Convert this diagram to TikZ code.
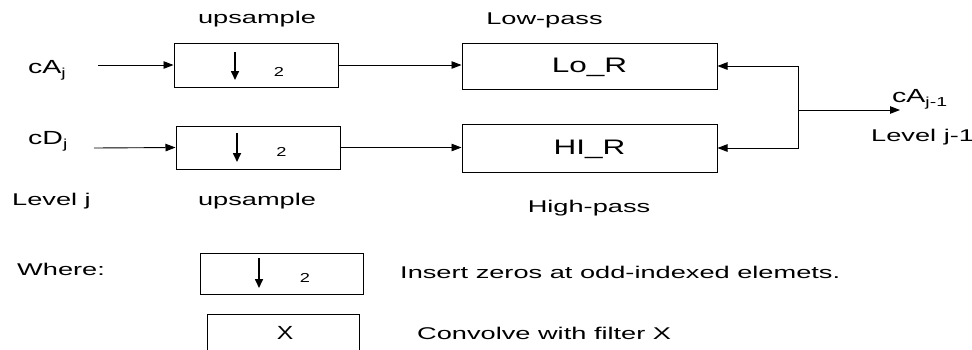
\documentclass[tikz,border=0pt]{standalone}
\usepackage{fontspec}
\setmainfont{Liberation Sans}
\newfontfamily\lblfont{Liberation Sans}[FakeStretch=1.6]
\newfontfamily\sigfont{Liberation Sans}[FakeStretch=1.5]
\newfontfamily\filtfont{Liberation Sans}[FakeStretch=1.5]
\newfontfamily\twofont{Liberation Sans}[FakeStretch=1.4]
\newfontfamily\xfont{Liberation Sans}[FakeStretch=1.3]
\usetikzlibrary{arrows.meta}
\newcommand\lowsub[1]{\raisebox{-4pt}{\fontsize{13}{13}\selectfont #1}}
\tikzset{
  lbl/.style={font=\lblfont\fontsize{17}{17}\selectfont, inner sep=0pt},
  sig/.style={font=\sigfont\fontsize{19}{19}\selectfont, inner sep=0pt},
  filt/.style={font=\filtfont\fontsize{21}{21}\selectfont, inner sep=0pt},
  two/.style={font=\twofont\fontsize{13}{13}\selectfont, inner sep=0pt},
  xlbl/.style={font=\xfont\fontsize{19}{19}\selectfont, inner sep=0pt},
  blk/.style={draw, line width=1pt, inner sep=0pt},
  conn/.style={line width=0.9pt, -{Triangle[length=10pt,width=7.5pt]}},
  downarr/.style={line width=1.6pt, -{Triangle[length=9pt,width=8pt]}},
}
\begin{document}
\begin{tikzpicture}[x=1pt,y=-1pt]
\useasboundingbox (0,0) rectangle (972,349);

% upsample blocks
\node[blk, minimum width=164pt, minimum height=44pt] (u1) at (256,65) {};
\node[blk, minimum width=164pt, minimum height=43pt] (u2) at (258,147.5) {};
% filter blocks
\node[blk, minimum width=255pt, minimum height=46pt] (lo) at (589.5,66) {};
\node[blk, minimum width=255pt, minimum height=48pt] (hi) at (589.5,148) {};

% contents of upsample blocks
\draw[downarr] (235,52) -- (235,80);
\node[two, anchor=base] (t1) at (279,76.5) {2};
\draw[downarr] (237,133) -- (237,162);
\node[two, anchor=base] (t2) at (281.5,156.5) {2};

\node[filt, anchor=base] (lor) at (589.5,72) {Lo\_R};
\node[filt, anchor=base] (hir) at (589.5,154) {HI\_R};

% labels
\node[lbl, anchor=base] (up1) at (257,23.5) {upsample};
\node[lbl, anchor=base] (up2) at (257,205) {upsample};
\node[lbl, anchor=base] (lp) at (544.5,24) {Low-pass};
\node[lbl, anchor=base] (hp) at (589,212) {High-pass};
\node[sig, anchor=base west] (ca) at (28,73) {cA\lowsub{j}};
\node[sig, anchor=base west] (cd) at (28,144) {cD\lowsub{j}};
\node[lbl, anchor=base west] (lj) at (12,205) {Level j};
\node[sig, anchor=base west] (caj) at (892,102) {cA\lowsub{j-1}};
\node[lbl, anchor=base west] (lj1) at (871,141) {Level j-1};

% connectors
\coordinate (ain) at (98,65);
\coordinate (din) at (94,148);
\coordinate (junc) at (798,110);
\coordinate (out) at (900,110);
\draw[conn] (ain) -- (u1.west);
\draw[conn] (din) -- (u2.west);
\draw[conn] (u1.east) -- (u1.east -| lo.west);
\draw[conn] (u2.east) -- (u2.east -| hi.west);
\draw[conn] (junc) |- (lo.east);
\draw[conn] (junc) |- (hi.east);
\draw[conn] (junc) -- (out);

% legend
\node[lbl, anchor=base west] (wh) at (17,275) {Where:};
\node[blk, minimum width=163pt, minimum height=41pt] (lg1) at (281.5,274) {};
\draw[downarr] (259,258) -- (259,288);
\node[two, anchor=base] (t3) at (305,282) {2};
\node[lbl, anchor=base west] (ins) at (400,278) {Insert zeros at odd-indexed elemets.};
\begin{scope}
\clip (0,0) rectangle (972,349);
\node[blk, minimum width=152pt, minimum height=46pt] (lg2) at (283,337) {};
\end{scope}
\node[xlbl, anchor=base] (xx) at (285,339) {X};
\node[lbl, anchor=base west] (conv) at (417,339) {Convolve with filter X};
\end{tikzpicture}
\end{document}
